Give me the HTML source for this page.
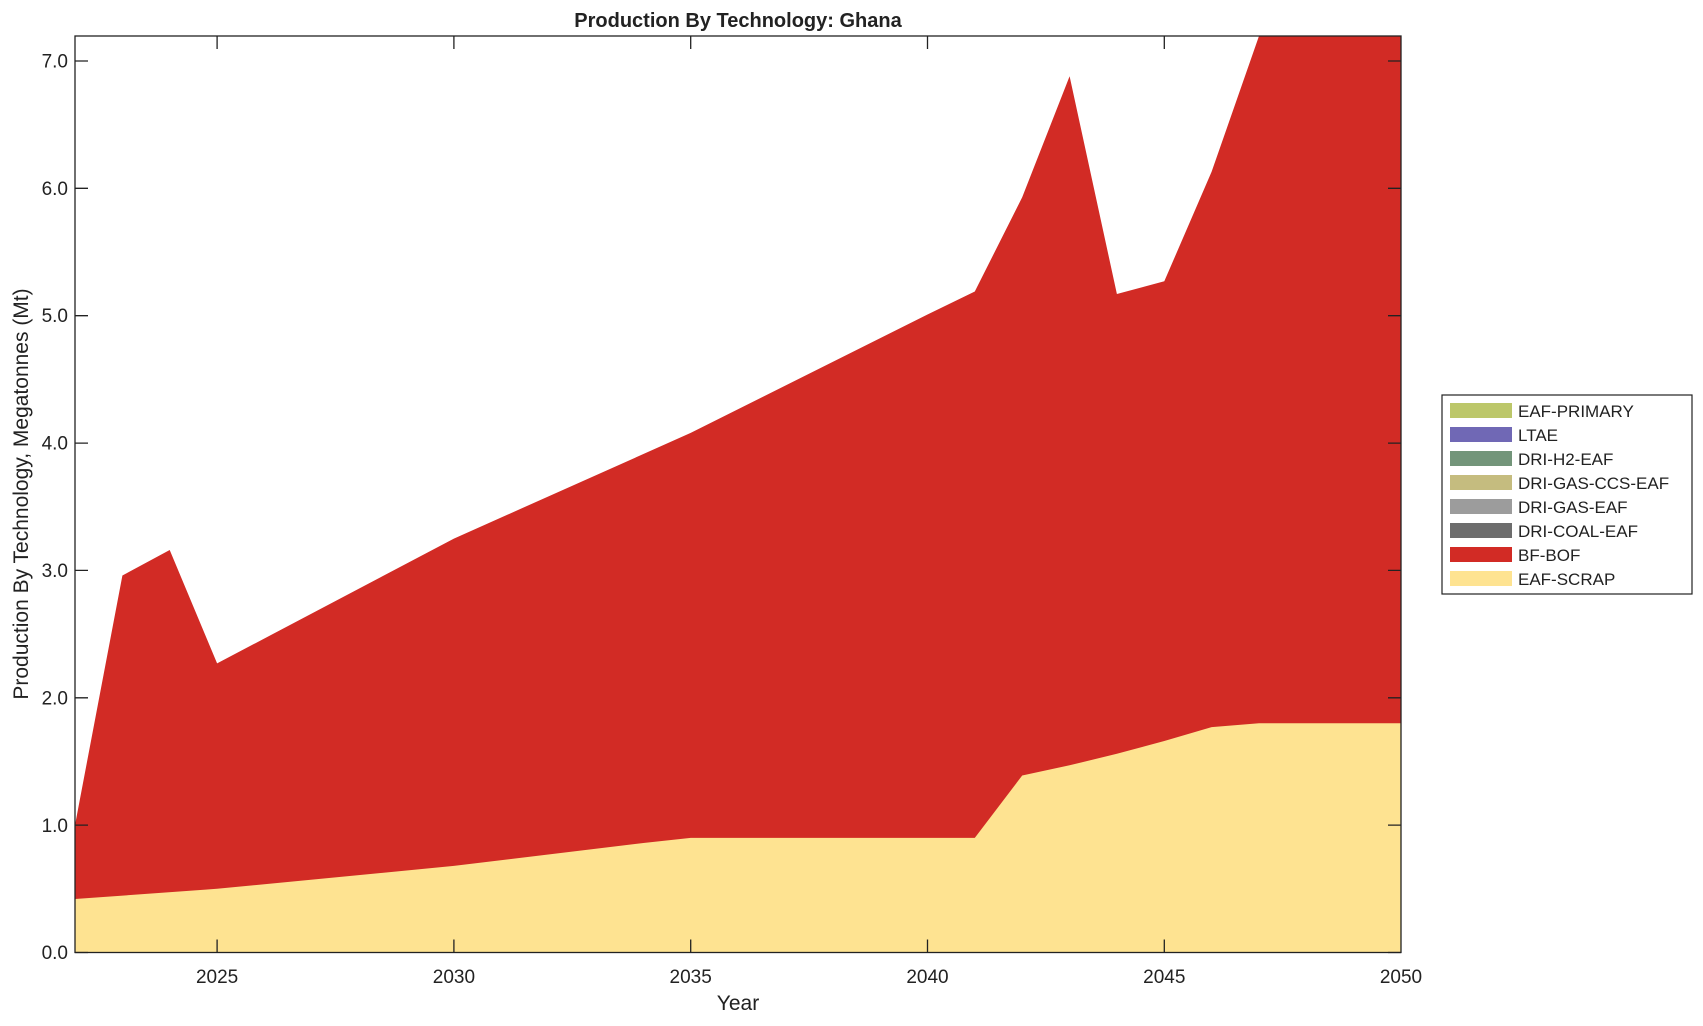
<!DOCTYPE html>
<html><head><meta charset="utf-8"><style>
body{margin:0;background:#fff}
svg text{font-family:"Liberation Sans",sans-serif;fill:#222}
</style></head><body>
<svg width="1703" height="1021" viewBox="0 0 1703 1021" xmlns="http://www.w3.org/2000/svg">
<rect width="1703" height="1021" fill="#fff"/>
<polygon fill="#D22B25" points="75,825.1 122.4,575.5 169.7,550 217.1,663.4 453.9,538.6 690.7,432.9 927.5,314.5 974.8,291.5 1022.2,197.3 1069.6,76.3 1116.9,294 1164.3,281.3 1211.6,171.8 1259,36 1401,36 1401,952.5 75,952.5"/>
<polygon fill="#FEE391" points="75,899 217.1,888.8 453.9,865.9 643.4,843 690.7,837.9 974.8,837.9 1022.2,775.5 1069.6,765.3 1116.9,753.8 1164.3,741 1211.6,727.1 1259,723.3 1401,723.3 1401,952.5 75,952.5"/>
<g stroke="#222" stroke-width="1.3" fill="none">
<rect x="75" y="36" width="1326" height="916.5"/>
<path d="M75,952.5h13M75,825.1h13M75,697.8h13M75,570.4h13M75,443.1h13M75,315.7h13M75,188.3h13M75,61h13
M1401,952.5h-13M1401,825.1h-13M1401,697.8h-13M1401,570.4h-13M1401,443.1h-13M1401,315.7h-13M1401,188.3h-13M1401,61h-13
M217.1,952.5v-13M453.9,952.5v-13M690.7,952.5v-13M927.5,952.5v-13M1164.3,952.5v-13
M217.1,36v13M453.9,36v13M690.7,36v13M927.5,36v13M1164.3,36v13"/>
</g>
<g font-size="19" text-anchor="end">
<text x="68" y="959">0.0</text><text x="68" y="832">1.0</text><text x="68" y="704.5">2.0</text><text x="68" y="577">3.0</text><text x="68" y="449.5">4.0</text><text x="68" y="322">5.0</text><text x="68" y="195">6.0</text><text x="68" y="67.5">7.0</text>
</g>
<g font-size="19" text-anchor="middle">
<text x="217.1" y="983">2025</text><text x="453.9" y="983">2030</text><text x="690.7" y="983">2035</text><text x="927.5" y="983">2040</text><text x="1164.3" y="983">2045</text><text x="1401" y="983">2050</text>
<text x="738" y="1010" font-size="21">Year</text>
<text x="738" y="27" font-size="20" font-weight="bold" fill="#000">Production By Technology: Ghana</text>
<text transform="translate(28,494) rotate(-90)" font-size="21">Production By Technology, Megatonnes (Mt)</text>
</g>
<rect x="1442" y="395" width="250" height="199" fill="#fff" stroke="#222" stroke-width="1.2"/>
<g>
<rect x="1450" y="403" width="62" height="15" fill="#BCC76A"/>
<rect x="1450" y="427" width="62" height="15" fill="#7068B5"/>
<rect x="1450" y="451" width="62" height="15" fill="#73957A"/>
<rect x="1450" y="475" width="62" height="15" fill="#C5BC7F"/>
<rect x="1450" y="499" width="62" height="15" fill="#9C9C9C"/>
<rect x="1450" y="523" width="62" height="15" fill="#6D6D6D"/>
<rect x="1450" y="547" width="62" height="15" fill="#D22B25"/>
<rect x="1450" y="571" width="62" height="15" fill="#FEE391"/>
</g>
<g font-size="17" fill="#000">
<text x="1518" y="417">EAF-PRIMARY</text>
<text x="1518" y="441">LTAE</text>
<text x="1518" y="465">DRI-H2-EAF</text>
<text x="1518" y="489">DRI-GAS-CCS-EAF</text>
<text x="1518" y="513">DRI-GAS-EAF</text>
<text x="1518" y="537">DRI-COAL-EAF</text>
<text x="1518" y="561">BF-BOF</text>
<text x="1518" y="585">EAF-SCRAP</text>
</g>
</svg>
</body></html>
